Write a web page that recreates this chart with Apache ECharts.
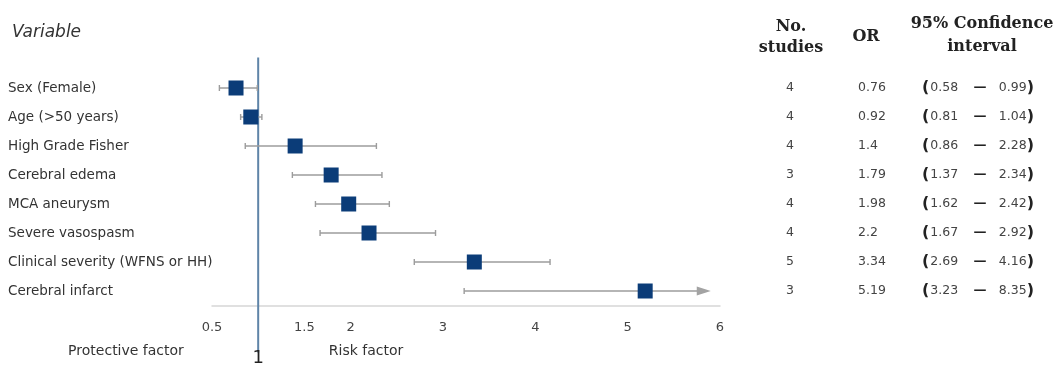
<!DOCTYPE html>
<html><head><meta charset="utf-8">
<script src="https://cdn.jsdelivr.net/npm/echarts@6/dist/echarts.min.js"></script>
<style>html,body{margin:0;padding:0;background:#fff}#c{width:1058px;height:368px}</style>
</head><body><div id="c"></div>
<script>
const variables = ['Sex (Female)', 'Age (>50 years)', 'High Grade Fisher', 'Cerebral edema', 'MCA aneurysm', 'Severe vasospasm', 'Clinical severity (WFNS or HH)', 'Cerebral infarct'];
const studies = [4, 4, 4, 3, 4, 4, 5, 3];
const oddsRatio = ['0.76', '0.92', '1.4', '1.79', '1.98', '2.2', '3.34', '5.19'];
const ciLow = ['0.58', '0.81', '0.86', '1.37', '1.62', '1.67', '2.69', '3.23'];
const ciHigh = ['0.99', '1.04', '2.28', '2.34', '2.42', '2.92', '4.16', '8.35'];
const tickValues = [0.5, 1.5, 2, 3, 4, 5, 6];
const nullValue = 1;
const axisMin = 0.5, axisMax = 6, arrowCap = 5.9;

const SANS = '"DejaVu Sans", sans-serif';
const SERIF = '"DejaVu Serif", serif';

const chart = echarts.init(document.getElementById('c'), null, {renderer: 'canvas'});

const whiskerData = ciLow.map((lo, i) => [+lo, +ciHigh[i], i]);
const pointData = oddsRatio.map((v, i) => [+v, i]);

const numStyle = {fontFamily: SANS, fontSize: 12.5, color: '#444'};
const parenStyle = {fontFamily: SANS, fontSize: 16, fontWeight: 'bold', color: '#222'};

function tableAxis(margin, align, formatter, rich) {
  return {
    type: 'category', data: variables, inverse: true, position: 'right',
    axisLine: {show: false}, axisTick: {show: false}, splitLine: {show: false},
    axisLabel: Object.assign({align, margin, formatter, rich}, numStyle)
  };
}

const option = {
  backgroundColor: '#fff',
  animation: false,
  grid: {left: 212, right: 338, top: 73.5, bottom: 62.5, outerBoundsMode: 'none'},
  xAxis: {
    type: 'value', min: axisMin, max: axisMax,
    axisLine: {show: true, lineStyle: {color: '#d6d6d6', width: 1.5}},
    axisTick: {show: false},
    splitLine: {show: false},
    axisLabel: {customValues: tickValues, formatter: v => String(v), margin: 16,
      fontFamily: SANS, fontSize: 13, color: '#444'}
  },
  yAxis: [{
    type: 'category', data: variables, inverse: true,
    axisLine: {show: false}, axisTick: {show: false}, splitLine: {show: false},
    axisLabel: {align: 'left', margin: 204, fontFamily: SANS, fontSize: 13.5, color: '#333'}
  },
    tableAxis(70, 'center', (v, i) => String(studies[i])),
    tableAxis(138, 'left', (v, i) => oddsRatio[i]),
    tableAxis(202, 'left', (v, i) => `{p|(}{n|${ciLow[i]}}`, {p: parenStyle, n: Object.assign({padding: [0, 0, 0, 1]}, numStyle)}),
    tableAxis(260, 'center', () => '{d|—}', {d: {fontFamily: SANS, fontSize: 13, fontWeight: 'bold', color: '#222'}}),
    tableAxis(314, 'right', (v, i) => `{n|${ciHigh[i]}}{p|)}`, {p: parenStyle, n: numStyle})
  ],
  graphic: [
    {type: 'text', left: 12, top: 24, style: {text: 'Variable', font: 'italic 17px ' + SANS, fill: '#333'}},
    {type: 'text', x: 791, y: 27, style: {text: 'No.', font: 'bold 16px ' + SERIF, fill: '#222', align: 'center', verticalAlign: 'middle'}},
    {type: 'text', x: 791, y: 48, style: {text: 'studies', font: 'bold 16px ' + SERIF, fill: '#222', align: 'center', verticalAlign: 'middle'}},
    {type: 'text', x: 866, y: 37, style: {text: 'OR', font: 'bold 16px ' + SERIF, fill: '#222', align: 'center', verticalAlign: 'middle'}},
    {type: 'text', x: 982, y: 24, style: {text: '95% Confidence', font: 'bold 16px ' + SERIF, fill: '#222', align: 'center', verticalAlign: 'middle'}},
    {type: 'text', x: 982, y: 47, style: {text: 'interval', font: 'bold 16px ' + SERIF, fill: '#222', align: 'center', verticalAlign: 'middle'}},
    {type: 'text', x: 126, y: 351, style: {text: 'Protective factor', font: '14px ' + SANS, fill: '#333', align: 'center', verticalAlign: 'middle'}},
    {type: 'text', x: 366, y: 351, style: {text: 'Risk factor', font: '14px ' + SANS, fill: '#333', align: 'center', verticalAlign: 'middle'}}
  ],
  series: [
    {
      type: 'custom', z: 1, silent: true,
      data: [[nullValue, 0]],
      renderItem(params, api) {
        const x = api.coord([nullValue, 0])[0];
        const cs = params.coordSys;
        return {type: 'group', children: [
          {type: 'line', shape: {x1: x, y1: cs.y - 16, x2: x, y2: cs.y + cs.height + 47},
            style: {stroke: '#5f84a8', lineWidth: 2}},
          {type: 'text', style: {text: String(nullValue), x: x, y: cs.y + cs.height + 53,
            align: 'center', verticalAlign: 'middle', font: '18px ' + SANS, fill: '#222'}}
        ]};
      }
    },
    {
      type: 'custom', z: 2, silent: true,
      data: whiskerData,
      encode: {x: [0, 1], y: 2},
      renderItem(params, api) {
        const lo = api.value(0), hi = api.value(1), cat = api.value(2);
        const clipped = hi > axisMax;
        const p0 = api.coord([lo, cat]);
        const p1 = api.coord([clipped ? arrowCap : hi, cat]);
        const y = p0[1], cap = 3;
        const st = {stroke: '#9c9c9c', lineWidth: 1.4};
        const children = [
          {type: 'line', shape: {x1: p0[0], y1: y, x2: p1[0] - (clipped ? 8 : 0), y2: y}, style: st},
          {type: 'line', shape: {x1: p0[0], y1: y - cap, x2: p0[0], y2: y + cap}, style: st}
        ];
        if (clipped) {
          children.push({type: 'polygon', shape: {points: [[p1[0] - 14, y - 4.5], [p1[0], y], [p1[0] - 14, y + 4.5]]},
            style: {fill: '#a3a3a3'}});
        } else {
          children.push({type: 'line', shape: {x1: p1[0], y1: y - cap, x2: p1[0], y2: y + cap}, style: st});
        }
        return {type: 'group', children};
      }
    },
    {
      type: 'scatter', z: 3, silent: true,
      data: pointData,
      symbol: 'rect', symbolSize: 15,
      itemStyle: {color: '#0b3c78', opacity: 1}
    }
  ]
};
chart.setOption(option);
</script>
</body></html>
